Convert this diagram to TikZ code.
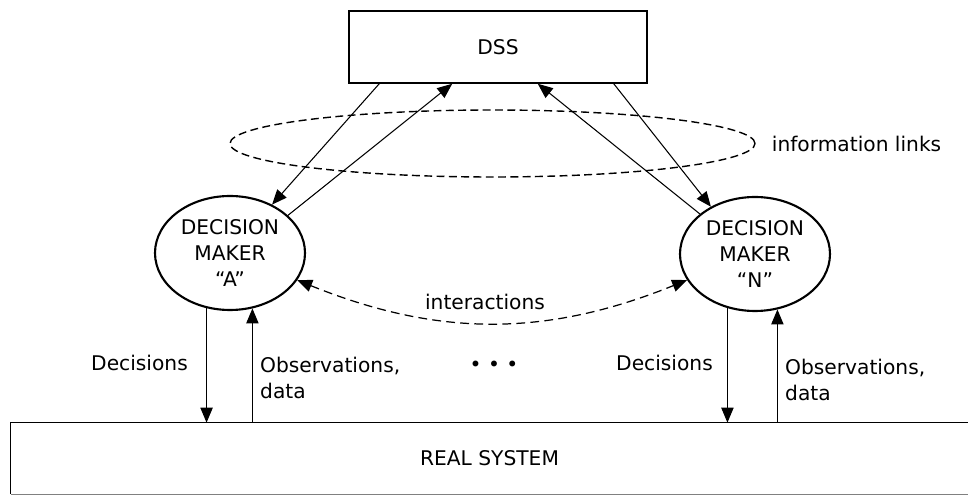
\documentclass[tikz,border=0pt]{standalone}
\usepackage{fontspec}
\setmainfont{DejaVu Sans}
\usetikzlibrary{arrows.meta,positioning,shapes}

\begin{document}
\begin{tikzpicture}[
    every node/.style={font=\fontsize{11.5}{15}\selectfont, align=center},
    sysbox/.style={draw, line width=0.9pt, minimum width=5.96cm, minimum height=1.44cm},
    maker/.style={ellipse, draw, line width=1.2pt, inner sep=0pt, minimum width=3cm, minimum height=2.28cm},
    linkring/.style={ellipse, draw, line width=0.8pt, dash pattern=on 4.5pt off 2.5pt, minimum width=10.5cm, minimum height=1.34cm},
    arrow/.style={line width=0.6pt, -{Triangle[length=8.5pt,width=7pt]}},
    twoway/.style={line width=0.7pt, dash pattern=on 5pt off 3pt, {Triangle[length=8.5pt,width=7pt]}-{Triangle[length=8.5pt,width=7pt]}}
  ]
    \useasboundingbox (0,0) rectangle (19.36,-9.94);

    % Support system and the real system
    \node[sysbox] (dss) at (9.96,-0.94) {DSS};
    \node[minimum width=19.14cm, minimum height=1.42cm] (sys) at (9.79,-9.17) {REAL SYSTEM};
    \draw[line width=0.9pt] (sys.north east) -- (sys.north west) -- (sys.south west);
    \draw[line width=0.6pt, gray] (sys.south west) -- (sys.south east);

    % Decision makers
    \node[maker] (dma) at (4.6,-5.06) {DECISION\\MAKER\\``A''};
    \node[maker] (dmn) at (15.1,-5.08) {DECISION\\MAKER\\``N''};

    % Information links ring
    \node[linkring] (ring) at (9.85,-2.87) {};
    \node[right=0.2cm of ring] (links) {information links};

    % Links to and from the DSS
    \draw[arrow] ([xshift=0.62cm]dss.south west) -- (dma.49);
    \draw[arrow] (dma.33) -- ([xshift=2.08cm]dss.south west);
    \draw[arrow] (dmn.144) -- ([xshift=-2.2cm]dss.south east);
    \draw[arrow] ([xshift=-0.68cm]dss.south east) -- (dmn.133);

    % Between the makers
    \draw[twoway, bend right=22] (dma.-22) to (dmn.201);
    \node (inter) at (9.7,-6.04) {interactions};
    \node (dots) at (9.88,-7.32) {• • •};

    % Decisions and observations
    \draw[arrow] (dma.247) -- (dma.247 |- sys.north);
    \draw[arrow] (dma.292 |- sys.north) -- (dma.292);
    \draw[arrow] (dmn.243) -- (dmn.243 |- sys.north);
    \draw[arrow] (dmn.292 |- sys.north) -- (dmn.292);

    \node[anchor=east] (deca) at (3.88,-7.26) {Decisions};
    \node[anchor=west, align=left] (obsa) at (5.08,-7.56) {Observations,\\data};
    \node[anchor=east] (decn) at (14.38,-7.26) {Decisions};
    \node[anchor=west, align=left] (obsn) at (15.58,-7.6) {Observations,\\data};

  \end{tikzpicture}
\end{document}
